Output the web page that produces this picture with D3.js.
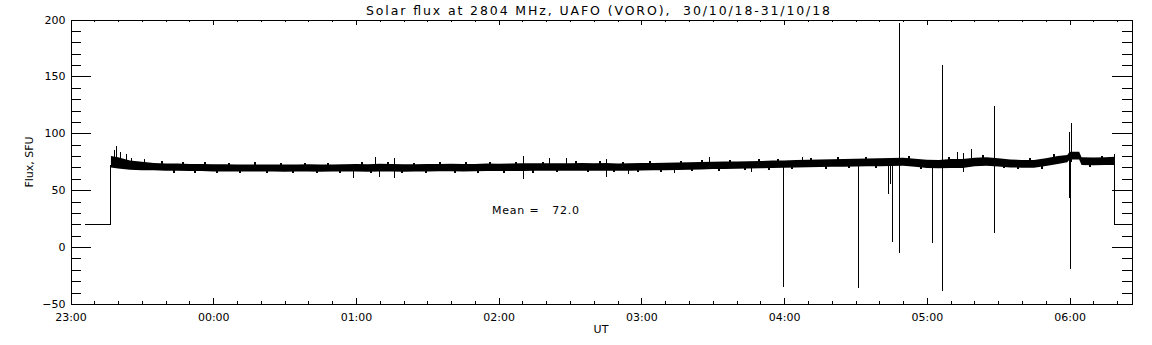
<!DOCTYPE html>
<html>
<head>
<meta charset="utf-8">
<script src="https://cdn.jsdelivr.net/npm/d3@7"></script>
<style>
body { margin: 0; background: #fff; }
text { font-family: "DejaVu Sans", sans-serif; fill: #000; }
</style>
</head>
<body>
<script>
// minutes after 23:00 UT
var hourTicks = [0, 60, 120, 180, 240, 300, 360, 420];
var hourLabels = ["23:00", "00:00", "01:00", "02:00", "03:00", "04:00", "05:00", "06:00"];
var fluxTicks = [-50, 0, 50, 100, 150, 200];

// placeholder level before and after the observation
var offTime = [6.2, 17, 17];
var offFlux = [20, 20, 72];
var offTime2 = [439, 439, 446];
var offFlux2 = [74, 20, 20];

// envelope of the noisy flux record (low / high edge)
var bandTime = [17, 20, 25, 30, 35, 40, 45, 50, 55, 60, 65, 70, 75, 80, 85, 90, 95, 100, 105, 110, 115, 120, 125, 130, 135, 140, 145, 150, 155, 160, 165, 170, 175, 180, 185, 190, 195, 200, 205, 210, 215, 220, 225, 230, 235, 240, 245, 250, 255, 260, 265, 270, 275, 280, 285, 290, 295, 300, 305, 310, 315, 320, 325, 330, 335, 340, 345, 350, 355, 360, 365, 370, 375, 380, 385, 390, 395, 400, 405, 410, 415, 419, 420, 424, 425, 430, 435, 439];
var bandLow = [70, 69, 68, 67.5, 67.5, 67, 67, 66.8, 66.8, 66.5, 66.5, 66.5, 66.5, 66.5, 66.5, 66.3, 66.5, 66.5, 66.3, 66.5, 66.5, 66.5, 66.3, 66.5, 66.5, 66.3, 66.5, 66.5, 66.6, 66.6, 66.5, 66.6, 66.8, 66.8, 66.8, 66.8, 67, 67, 67, 67.1, 67.2, 67, 67.2, 67, 67.2, 67.3, 67.5, 67.6, 67.8, 68, 68.3, 68.6, 68.6, 68.8, 69, 69.2, 69.5, 69.8, 70, 70.2, 70.4, 70.6, 70.6, 70.8, 71, 71, 71.2, 71.5, 70.5, 69.5, 69.2, 69.5, 69.5, 71, 71.5, 70.8, 70, 69.8, 69.8, 71.2, 73, 74.5, 77, 77, 72.2, 72, 72.2, 72.2];
var bandHigh = [80, 79, 76, 75, 74, 73.5, 73.5, 73, 73, 72.8, 72.8, 72.5, 72.5, 72.5, 72.6, 72.5, 72.6, 72.8, 72.5, 72.6, 72.8, 73, 72.8, 73.2, 73, 72.8, 72.8, 73, 73, 73.2, 73, 73, 73.4, 73.2, 73.4, 73.6, 73.6, 73.6, 73.6, 73.6, 73.8, 73.6, 73.8, 73.5, 73.6, 73.8, 74, 74.2, 74.4, 74.6, 74.8, 75, 75.2, 75.2, 75.4, 75.6, 76, 76.2, 76.6, 76.8, 77, 77.1, 77.4, 77.6, 77.8, 78, 78.4, 78.6, 77.6, 76.8, 76.5, 77.5, 77.5, 78.5, 79, 78, 77, 76.5, 76.5, 78, 80, 81, 83.8, 83.8, 79, 78.8, 79, 79.5];

// small excursions at the band edges
var roughTime = [38, 43, 47, 52, 56, 61, 66, 71, 77, 82, 88, 93, 98, 103, 108, 113, 122, 126, 133, 139, 144, 149, 155, 161, 166, 171, 176, 182, 187, 194, 198, 204, 212, 217, 222, 228, 232, 238, 243, 248, 256, 261, 265, 272, 277, 283, 289, 293, 297, 303, 311, 317, 322, 327, 334, 338, 352, 357, 369, 383, 392, 398, 403, 408, 413, 428, 433];
var roughLow = [70, 65.5, 70, 65.3, 70, 65, 70, 65, 70, 65.2, 70, 65, 70, 65, 70, 65.2, 70, 65, 70, 65, 70, 65.2, 70, 65.2, 70, 65.3, 70, 65.4, 70, 65.5, 70, 65.6, 70.5, 65.8, 70.5, 65.6, 70.5, 66, 70.5, 66.2, 71, 66.6, 71, 67.2, 72, 67.5, 72, 67.8, 72.5, 68.5, 73, 69, 73.5, 69.2, 74, 69.5, 74, 69, 73, 73, 69.3, 68.5, 73, 68.4, 75, 70.7, 75];
var roughHigh = [75.5, 70, 75, 70, 74.5, 70, 74.3, 70, 74.5, 70, 74, 70, 74.3, 70, 74, 70, 74.6, 70, 74.5, 70, 74.2, 70, 74.6, 70, 74.5, 70, 75, 70, 75, 70, 75.2, 70.5, 75.4, 70.5, 75.3, 70.5, 75.2, 70.5, 75.6, 71, 76, 71, 76.4, 72, 76.8, 72, 77.2, 72.5, 77.6, 73, 78.4, 73.5, 78.8, 74, 79.4, 74, 80.2, 73.5, 79, 80.6, 74, 73, 78, 73, 81.5, 75, 80.3];

// single-sample spikes: time, lowest and highest value
var spikeTime = [18.2, 19.2, 20.9, 23.4, 25.5, 30.8, 118.7, 128, 129.7, 136.1, 190.2, 201.1, 208.4, 225.3, 234.4, 253.7, 268.4, 286.2, 299.5, 307.3, 331.1, 343.7, 344.5, 345.4, 348.3, 362.2, 366.4, 372.7, 375, 378.6, 388.3, 419.8, 420.2, 420.6, 438.6];
var spikeLow = [72, 72, 72, 71, 70, 70, 61, 69, 61.9, 61, 59.8, 70, 70, 61.9, 64, 64.8, 70, 65.7, -35, 72, -36, 46.4, 55.2, 4.8, -4.9, 3.3, -39, 72, 66.3, 72, 12.7, 42.9, -19.5, 75, 74];
var spikeHigh = [85.3, 88.8, 83.3, 81.8, 78.5, 77.4, 70, 79.4, 70, 78, 80, 78.3, 78, 77, 70, 70, 78.9, 72, 72, 79.4, 74, 74, 74, 74, 196.7, 74, 160, 83.3, 82.4, 86.2, 124.3, 100.9, 80, 108.8, 81.8];

var meanFlux = 72.0;

var svgWidth = 1152;
var svgHeight = 345;
var plotLeft = 70.5, plotRight = 1131.5, plotTop = 19.5, plotBottom = 304;

var svg = d3.select('body').append('svg')
	.attr("width", svgWidth)
	.attr("height", svgHeight);

var x = d3.scaleLinear().domain([0, 446]).range([plotLeft, plotRight]);
var y = d3.scaleLinear().domain([-50, 200]).range([plotBottom, plotTop]);

var plot = svg.append("g");

// data
var band = d3.area()
	.x(function(d, i) { return x(bandTime[i]); })
	.y0(function(d, i) { return y(bandLow[i]); })
	.y1(function(d, i) { return y(bandHigh[i]); });

plot.append("path")
	.datum(bandTime)
	.attr("d", band)
	.attr("fill", "#000");

var line = d3.line()
	.x(function(d) { return x(d[0]); })
	.y(function(d) { return y(d[1]); });

plot.append("path")
	.datum(offTime.map(function(t, i) { return [t, offFlux[i]]; }))
	.attr("d", line)
	.attr("fill", "none").attr("stroke", "#000").attr("stroke-width", 1)
	.attr("shape-rendering", "crispEdges");

plot.append("path")
	.datum(offTime2.map(function(t, i) { return [t, offFlux2[i]]; }))
	.attr("d", line)
	.attr("fill", "none").attr("stroke", "#000").attr("stroke-width", 1)
	.attr("shape-rendering", "crispEdges");

function drawTicks(cls, times, lows, highs, w) {
	plot.selectAll('line.' + cls)
		.data(times)
		.enter()
		.append('line')
		.attr("class", cls)
		.attr("x1", function(d) { return Math.round(x(d)) + 0.5; })
		.attr("x2", function(d) { return Math.round(x(d)) + 0.5; })
		.attr("y1", function(d, i) { return y(lows[i]); })
		.attr("y2", function(d, i) { return y(highs[i]); })
		.attr("stroke", "#000")
		.attr("stroke-width", w)
		.attr("shape-rendering", "crispEdges");
}
drawTicks("rough", roughTime, roughLow, roughHigh, 2);
drawTicks("spike", spikeTime, spikeLow, spikeHigh, 1);

// axes
var minorX = d3.range(0, 447, 10).filter(function(m) { return hourTicks.indexOf(m) < 0; });
var minorY = d3.range(-50, 201, 10).filter(function(v) { return fluxTicks.indexOf(v) < 0; });

function axisGroup(axis, tx, ty) {
	var g = svg.append("g")
		.attr("transform", "translate(" + tx + "," + ty + ")")
		.call(axis);
	g.selectAll("path, line").attr("stroke", "#000").attr("shape-rendering", "crispEdges");
	g.selectAll("text").attr("font-size", 11).attr("font-family", "DejaVu Sans, sans-serif");
	return g;
}

axisGroup(d3.axisBottom(x).tickValues(hourTicks)
	.tickFormat(function(d, i) { return hourLabels[i]; })
	.tickSizeInner(-6).tickSizeOuter(0).tickPadding(9), 0, plotBottom);
axisGroup(d3.axisBottom(x).tickValues(minorX).tickFormat("")
	.tickSizeInner(-3).tickSizeOuter(0), 0, plotBottom);
axisGroup(d3.axisTop(x).tickValues(hourTicks).tickFormat("")
	.tickSizeInner(-5).tickSizeOuter(0), 0, plotTop);
axisGroup(d3.axisTop(x).tickValues(minorX).tickFormat("")
	.tickSizeInner(-2.5).tickSizeOuter(0), 0, plotTop);

axisGroup(d3.axisLeft(y).tickValues(fluxTicks)
	.tickSizeInner(-20).tickSizeOuter(0).tickPadding(5), plotLeft, 0);
axisGroup(d3.axisLeft(y).tickValues(minorY).tickFormat("")
	.tickSizeInner(-10).tickSizeOuter(0), plotLeft, 0);
axisGroup(d3.axisRight(y).tickValues(fluxTicks).tickFormat("")
	.tickSizeInner(-20).tickSizeOuter(0), plotRight, 0);
axisGroup(d3.axisRight(y).tickValues(minorY).tickFormat("")
	.tickSizeInner(-10).tickSizeOuter(0), plotRight, 0);

// texts
svg.append("text")
	.attr("x", 598).attr("y", 14.5)
	.attr("text-anchor", "middle")
	.attr("font-size", 12.5)
	.attr("textLength", 464).attr("lengthAdjust", "spacing")
	.style("white-space", "pre")
	.text("Solar flux at 2804 MHz, UAFO (VORO),  30/10/18-31/10/18");

svg.append("text")
	.attr("x", 601).attr("y", 332.5)
	.attr("text-anchor", "middle")
	.attr("font-size", 11)
	.text("UT");

svg.append("text")
	.attr("transform", "translate(33,162) rotate(-90)")
	.attr("text-anchor", "middle")
	.attr("font-size", 11)
	.text("Flux, SFU");

svg.append("text")
	.attr("x", 492).attr("y", 214)
	.attr("font-size", 11)
	.attr("textLength", 87).attr("lengthAdjust", "spacing")
	.style("white-space", "pre")
	.text("Mean =   " + meanFlux.toFixed(1));
</script>
</body>
</html>
